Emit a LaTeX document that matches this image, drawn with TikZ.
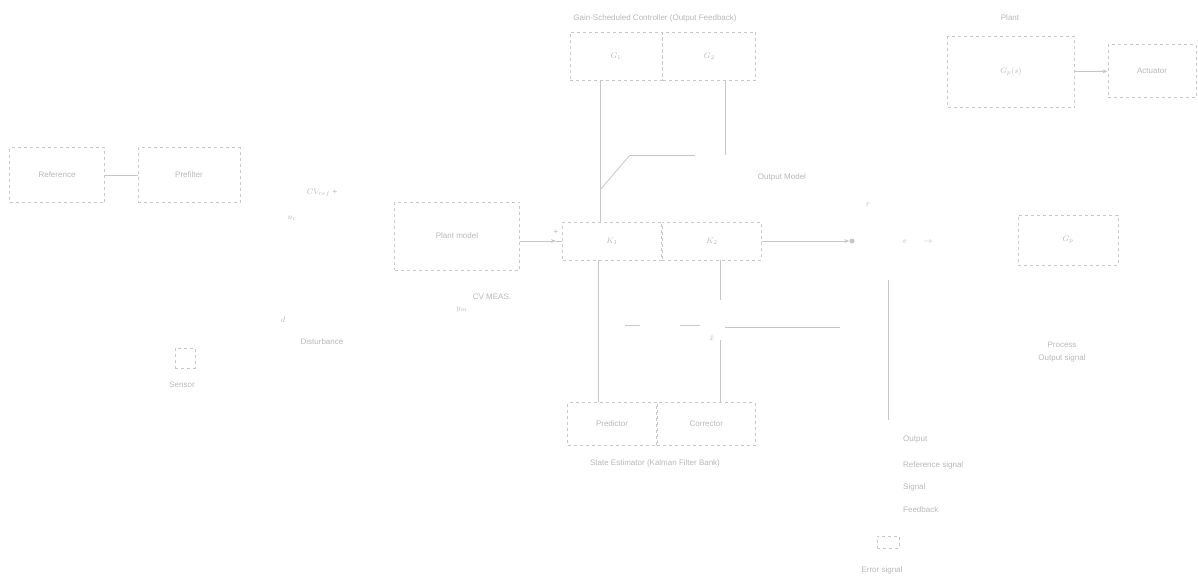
\documentclass[tikz,border=0pt]{standalone}
\usepackage{fontspec}
\setmainfont{Liberation Sans}
\usetikzlibrary{arrows.meta,calc}
\definecolor{ln}{gray}{0.78}
\definecolor{tx}{gray}{0.72}
\tikzset{
  blk/.style={draw=ln, dashed, line width=0.8pt, inner sep=0pt, text=tx, font=\footnotesize},
  lbl/.style={text=tx, font=\footnotesize, inner sep=1pt},
  conn/.style={draw=ln, line width=0.8pt},
  arr/.style={draw=ln, line width=0.8pt, -{Stealth[length=5pt]}},
  dot/.style={circle, fill=ln, inner sep=0pt, minimum size=5pt}
}
\begin{document}
\begin{tikzpicture}[x=1pt,y=-1pt]
\useasboundingbox (0,0) rectangle (1198,587);
% left blocks
\node[blk, minimum width=95, minimum height=55] (a) at (57,175) {Reference};
\node[blk, minimum width=102, minimum height=55] (b) at (189,175) {Prefilter};
\draw[conn] (a) -- (b);
\node[lbl] (l1) at (322,193) {$CV_{ref}$ +};
\node[lbl] (l2) at (292,218) {$u_c$};
\node[lbl] (l3) at (283,320) {$d$};
\node[lbl] (l4) at (322,342) {Disturbance};
\node[blk, minimum width=20, minimum height=20] (s) at (185,358) {};
\node[lbl] (sl) at (182,385) {Sensor};
% middle plant model
\node[blk, minimum width=125, minimum height=68] (c) at (457,236) {Plant model};
\node[lbl] (cl) at (492,297) {CV MEAS.};
\node[lbl] (cl2) at (462,310) {$y_m$};
\coordinate (sum) at (556,241);
\node[lbl] at (556,232) {+};
\draw[arr] (c.east |- sum) -- (sum);
% central wide box
\node[blk, minimum width=99, minimum height=38] (d1) at (612,241) {$K_1$};
\node[blk, minimum width=99, minimum height=38, anchor=west] (d2) at (d1.east) {$K_2$};
\draw[conn] (sum) -- (d1.west);
% top controller
\node[blk, minimum width=92, minimum height=48] (e1) at (616,56) {$G_1$};
\node[blk, minimum width=93, minimum height=48, anchor=west] (e2) at (e1.east) {$G_2$};
\node[lbl] (et) at (655,18) {Gain-Scheduled Controller (Output Feedback)};
\coordinate (t1) at (600,155);
\coordinate (t2) at (695,155);
\draw[conn] (e1.south -| t1) -- (t1 |- d1.north);
\draw[conn] (630,155) -- (t2);
\draw[conn] (725,80) -- (725,155);
\draw[conn] (600,190) -- (630,155);
\node[lbl] (om) at (782,177) {Output Model};
% bottom estimator
\node[blk, minimum width=89, minimum height=43] (f1) at (612,424) {Predictor};
\node[blk, minimum width=98, minimum height=43, anchor=west] (f2) at (f1.east) {Corrector};
\node[lbl] (ft) at (655,463) {State Estimator (Kalman Filter Bank)};
\draw[conn] (598,260) -- (598,402);
\draw[conn] (720,260) -- (720,300);
\draw[conn] (720,340) -- (720,402);
\draw[conn] (625,325) -- (640,325);
\draw[conn] (680,325) -- (700,325);
\coordinate (h2) at (840,327);
\draw[conn] (725,327) -- (h2);
\node[lbl] at (712,338) {$\hat{x}$};
% right side
\node[dot] (j) at (852,241) {};
\draw[arr] (d2.east) -- (j);
\node[lbl] at (905,242) {$e$};
\node[lbl] at (928,242) {$\to$};
\draw[conn] (888,280) -- (888,420);
\node[lbl] at (868,205) {$r$};
\node[lbl, anchor=west] at (902,440) {Output};
\node[lbl, anchor=west] at (902,465) {Reference signal};
\node[lbl, anchor=west] at (902,487) {Signal};
\node[lbl, anchor=west] at (902,510) {Feedback};
\node[blk, minimum width=22, minimum height=12] (bb) at (888,542) {};
\node[lbl] (bbl) at (882,570) {Error signal};
% process block
\node[blk, minimum width=100, minimum height=50] (g) at (1068,240) {$G_p$};
\node[lbl] at (1062,345) {Process};
\node[lbl] at (1062,358) {Output signal};
% top right plant
\node[blk, minimum width=127, minimum height=71] (h) at (1011,72) {$G_p(s)$};
\node[lbl] at (1010,18) {Plant};
\node[blk, minimum width=88, minimum height=53] (i) at (1152,71) {Actuator};
\draw[arr] (h) -- (i);
\end{tikzpicture}
\end{document}
